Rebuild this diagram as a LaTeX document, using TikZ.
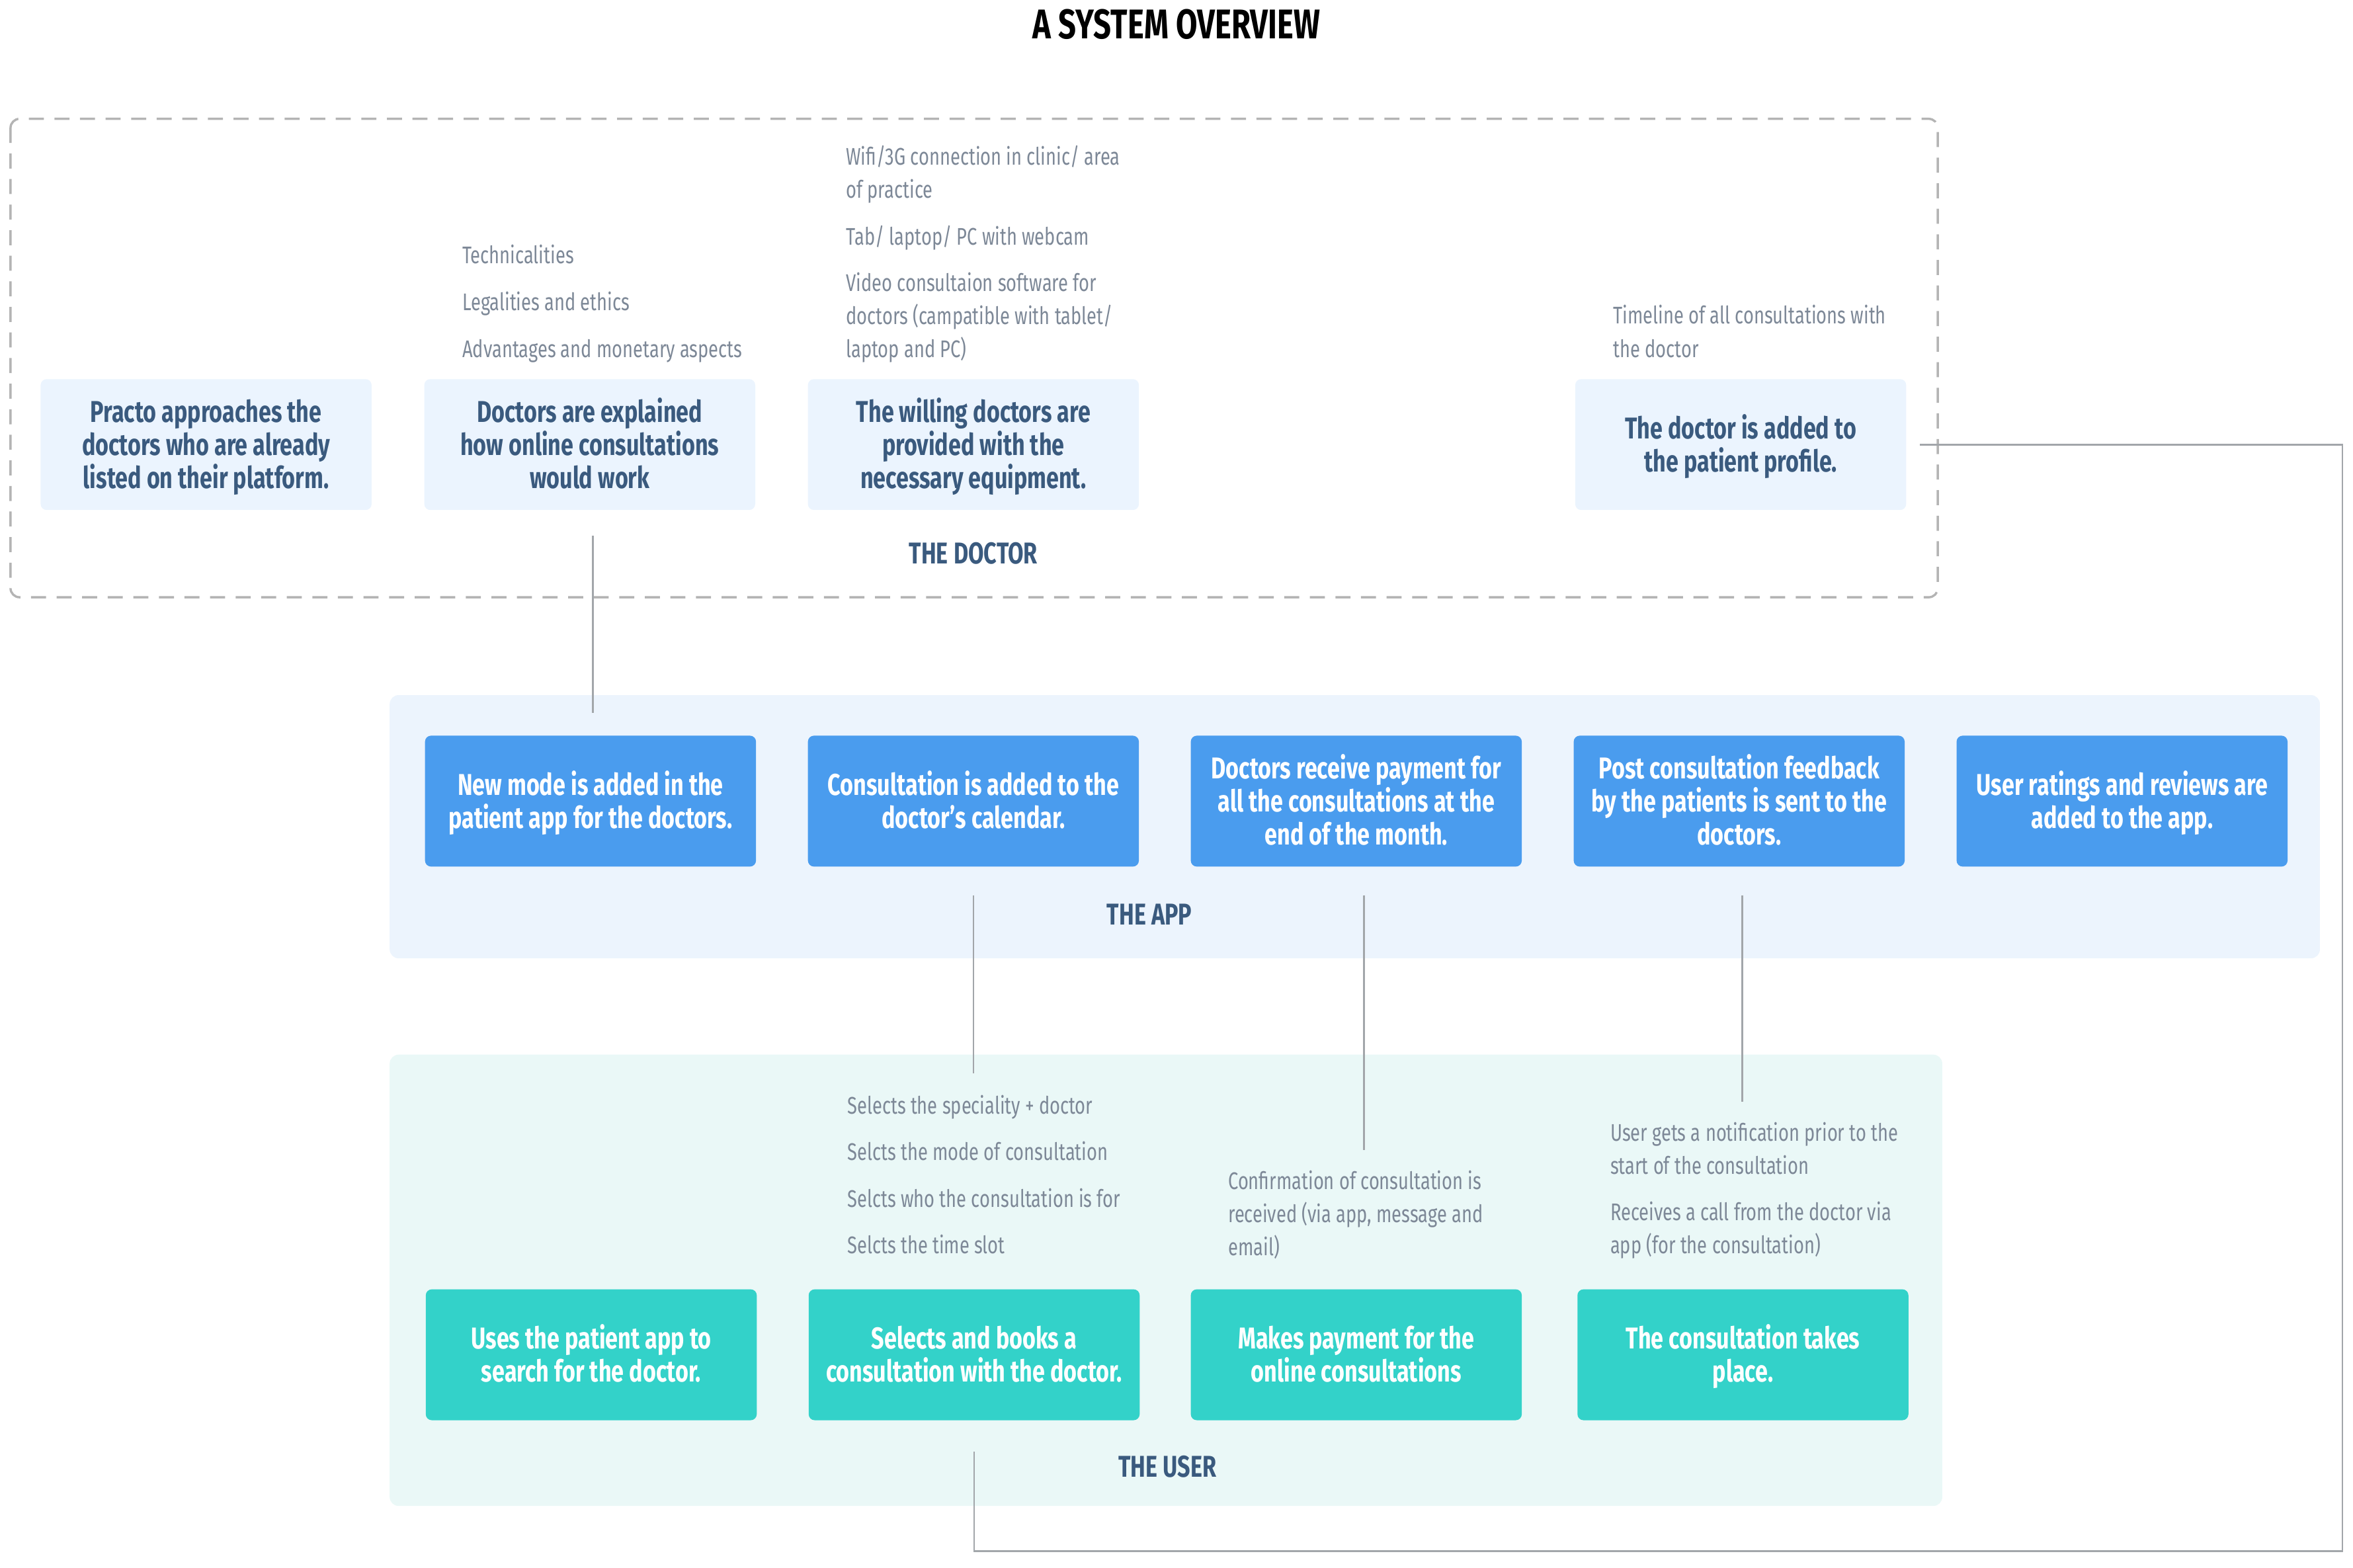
\documentclass[tikz,border=0pt]{standalone}
\usepackage{fontspec}
\setmainfont{Fira Sans}[FakeStretch=0.75]
\usetikzlibrary{positioning}

\definecolor{docfill}{HTML}{EBF4FE}
\definecolor{inktext}{HTML}{3A5A7E}
\definecolor{notetext}{HTML}{7D8897}
\definecolor{appfill}{HTML}{4A9CEE}
\definecolor{apppanel}{HTML}{ECF4FD}
\definecolor{usrfill}{HTML}{33D2C9}
\definecolor{usrpanel}{HTML}{EAF8F7}
\definecolor{linkgray}{HTML}{A2A6AA}
\definecolor{dashgray}{HTML}{B4B4B4}

\tikzset{
  card/.style={rounded corners=2pt, minimum width=110pt, minimum height=43.5pt,
               align=center, inner sep=0pt, outer sep=0pt,
               text height=18pt, text depth=0pt,
               font=\bfseries\fontsize{10}{11}\selectfont},
  threelines/.style={text height=29pt},
  docbox/.style={card, fill=docfill, text=inktext},
  appbox/.style={card, fill=appfill, text=white},
  usrbox/.style={card, fill=usrfill, text=white},
  note/.style={anchor=north west, align=left, inner sep=0pt, text=notetext,
               font=\fontsize{8}{11}\selectfont},
  grouplabel/.style={text=inktext, font=\bfseries\fontsize{10}{12}\selectfont},
  link/.style={draw=linkgray, line width=0.6pt},
}

\begin{document}
\begin{tikzpicture}[x=0.5pt, y=-0.5pt, node distance=17.25pt]
\useasboundingbox (0,0) rectangle (1564,1041.8);

% panels
\draw[dashgray, line width=0.75pt, dash pattern=on 5pt off 3.5pt, rounded corners=3pt]
  (7,79) rectangle (1288,397);
\fill[apppanel, rounded corners=3pt] (259,462) rectangle (1542,637);
\fill[usrpanel, rounded corners=3pt] (259,701) rectangle (1291,1001);

\node[font=\bfseries\fontsize{13.8}{16}\selectfont] (title) at (782,16) {A SYSTEM OVERVIEW};

% the doctor
\node[docbox, threelines] (doc1) at (137,295.5) {Practo approaches the\\doctors who are already\\listed on their platform.};
\node[docbox, threelines, right=17.5pt of doc1] (doc2) {Doctors are explained\\how online consultations\\would work};
\node[docbox, threelines, right=17.5pt of doc2] (doc3) {The willing doctors are\\provided with the\\necessary equipment.};
\node[docbox, right=145pt of doc3] (doc4) {The doctor is added to\\the patient profile.};

\node[note] (doc2note) at (307,162.5) {Technicalities\\[4.5pt]Legalities and ethics\\[4.5pt]Advantages and monetary aspects};
\node[note] (doc3note) at (562,96.5) {Wifi/3G connection in clinic/ area\\of practice\\[4.5pt]Tab/ laptop/ PC with webcam\\[4.5pt]Video consultaion software for\\doctors (campatible with tablet/\\laptop and PC)};
\node[note] (doc4note) at (1072,202.5) {Timeline of all consultations with\\the doctor};

\node[grouplabel] (doclabel) at (647,368) {THE DOCTOR};

% the app
\node[appbox] (app1) at (392.5,532.5) {New mode is added in the\\patient app for the doctors.};
\node[appbox, right=of app1] (app2) {Consultation is added to the\\doctor’s calendar.};
\node[appbox, threelines, right=of app2] (app3) {Doctors receive payment for\\all the consultations at the\\end of the month.};
\node[appbox, threelines, right=of app3] (app4) {Post consultation feedback\\by the patients is sent to the\\doctors.};
\node[appbox, right=of app4] (app5) {User ratings and reviews are\\added to the app.};

\node[grouplabel] (applabel) at (764,608) {THE APP};

% the user
\node[usrbox] (usr1) at (393,900.5) {Uses the patient app to\\search for the doctor.};
\node[usrbox, right=17.25pt of usr1] (usr2) {Selects and books a\\consultation with the doctor.};
\node[usrbox, right=17pt of usr2] (usr3) {Makes payment for the\\online consultations};
\node[usrbox, right=18.5pt of usr3] (usr4) {The consultation takes\\place.};

\node[note] (usr2note) at (563,727.5) {Selects the speciality + doctor\\[4.5pt]Selcts the mode of consultation\\[4.5pt]Selcts who the consultation is for\\[4.5pt]Selcts the time slot};
\node[note] (usr3note) at (816,777.5) {Confirmation of consultation is\\received (via app, message and\\email)};
\node[note] (usr4note) at (1070,745.5) {User gets a notification prior to the\\start of the consultation\\[4.5pt]Receives a call from the doctor via\\app (for the consultation)};

\node[grouplabel] (usrlabel) at (776,975) {THE USER};

% connectors
\coordinate (loopne) at (1557,295.5);
\coordinate (loopse) at (1557,1031);
\draw[link, shorten <=8.5pt, shorten >=7.5pt] ([xshift=1pt]doc2.south) -- ([xshift=1pt]doc2.south |- app1.north);
\draw[link, shorten <=9.5pt, shorten >=7pt] (app2.south) -- (app2.south |- usr2note.north);
\draw[link, shorten <=9.5pt, shorten >=6.5pt] ([xshift=2.5pt]app3.south) -- ([xshift=2.5pt]app3.south |- usr3note.north);
\draw[link, shorten <=9.5pt, shorten >=6.5pt] ([xshift=1pt]app4.south) -- ([xshift=1pt]app4.south |- usr4note.north);
\draw[link, shorten <=4.5pt, shorten >=10.5pt] (doc4.east) -- (loopne) -- (loopse) -| (usr2.south);
\end{tikzpicture}
\end{document}
